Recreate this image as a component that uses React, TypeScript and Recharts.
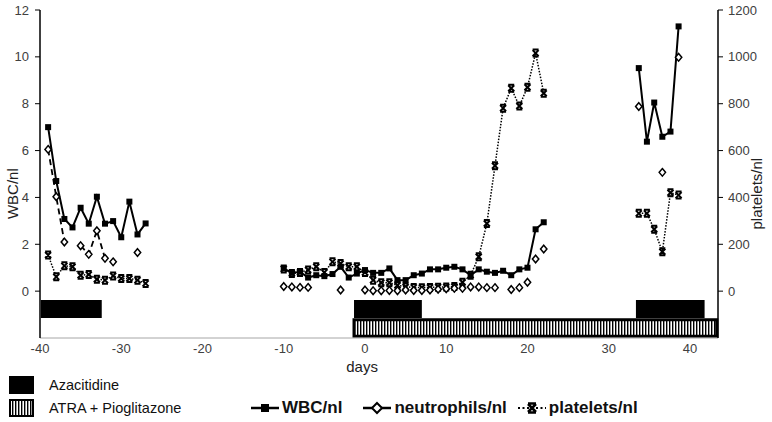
import React from 'react'
import { ComposedChart, Line, XAxis, YAxis, ReferenceArea } from 'recharts'

// day numbers and lab values
const earlyDays = [-39, -38, -37, -36, -35, -34, -33, -32, -31, -30, -29, -28, -27]
const earlyWbc = [7.0, 4.7, 3.08, 2.72, 3.56, 2.88, 4.03, 2.88, 2.99, 2.3, 3.82, 2.42, 2.89]
const earlyNeutroLine = [6.05, 4.03, 2.1, null, 1.94, 1.57, 2.58, 1.4, null, null, null, null, null]
const earlyNeutroDots = [null, null, null, null, null, null, null, null, 1.25, null, null, 1.65, null]
const earlyPlatelets = [154, 61, 108, 104, 68, 71, 51, 47, 65, 54, 54, 47, 33]

const midDays = [-10, -9, -8, -7, -6, -5, -4, -3, -2, -1, 0, 1, 2, 3, 4, 5, 6, 7, 8, 9, 10, 11, 12, 13, 14, 15, 16, 17, 18, 19, 20, 21, 22]
const midWbc = [0.97, 0.78, 0.83, 0.58, 0.68, 0.64, 0.73, 1.04, 0.58, 0.75, 0.9, 0.78, 0.78, 0.97, 0.47, 0.47, 0.68, 0.75, 0.93, 0.93, 1.0, 1.04, 0.93, 0.68, 0.93, 0.83, 0.78, 0.87, 0.68, 0.93, 1.0, 2.64, 2.94]
const midNeutro = [0.2, 0.18, 0.16, 0.16, null, null, null, 0.05, null, null, 0.05, 0.02, 0.02, 0.03, 0.02, 0.05, 0.03, 0.03, 0.05, 0.08, 0.1, 0.12, 0.12, 0.18, 0.18, 0.15, 0.15, null, 0.07, 0.15, 0.38, 1.37, 1.8]
const midPlatelets = [95, 75, 80, 90, 104, 80, 125, 118, 104, 104, 80, 47, 36, 36, 25, 18, 16, 15, 16, 17, 18, 20, 38, 68, 147, 289, 535, 781, 866, 790, 870, 1016, 845]

const lateDays = [33.7, 34.7, 35.6, 36.6, 37.6, 38.6]
const lateWbc = [9.52, 6.38, 8.05, 6.59, 6.81, 11.3]
const lateNeutro = [7.88, null, null, 5.07, null, 9.98]
const latePlatelets = [332, 332, 264, 168, 420, 410]

// treatment periods [start day, end day]
const azacitidine = [[-39.9, -32.4], [-1.35, 7.0], [33.35, 41.8]]
const atra = [[-1.35, 43.3]]

const xTicks = [-40, -30, -20, -10, 0, 10, 20, 30, 40]
const leftTicks = [0, 2, 4, 6, 8, 10, 12]
const rightTicks = [0, 200, 400, 600, 800, 1000, 1200]

const font = '"Liberation Sans", Arial, sans-serif'

type Val = number | null
type Row = { day: number; wbc: Val; neutroLine: Val; neutroDot: Val; platelets: Val }

function segment(days: number[], wbc: Val[], neutroLine: Val[] | null, neutroDot: Val[], platelets: Val[]): Row[] {
  return days.map((day, i) => ({
    day,
    wbc: wbc[i],
    neutroLine: neutroLine ? neutroLine[i] : null,
    neutroDot: neutroDot[i],
    platelets: platelets[i],
  }))
}

// empty rows so the lines break between the three sampling periods
const gap = (day: number): Row => ({ day, wbc: null, neutroLine: null, neutroDot: null, platelets: null })

const rows: Row[] = [
  ...segment(earlyDays, earlyWbc, earlyNeutroLine, earlyNeutroDots, earlyPlatelets),
  gap(-18),
  ...segment(midDays, midWbc, null, midNeutro, midPlatelets),
  gap(28),
  ...segment(lateDays, lateWbc, null, lateNeutro, latePlatelets),
]

const square = (p: any) => {
  if (p.value == null || p.cx == null) return <g key={`sq${p.index}`} />
  return <rect key={`sq${p.index}`} x={p.cx - 3} y={p.cy - 3} width={6} height={6} fill="#000" />
}

const diamond = (p: any) => {
  if (p.value == null || p.cx == null) return <g key={`dm${p.index}-${p.dataKey}`} />
  const { cx, cy } = p
  return (
    <path
      key={`dm${p.index}-${p.dataKey}`}
      d={`M${cx},${cy - 3.8} L${cx + 3.2},${cy} L${cx},${cy + 3.8} L${cx - 3.2},${cy} Z`}
      fill="#fff"
      stroke="#000"
      strokeWidth={1.5}
    />
  )
}

const star = (p: any) => {
  if (p.value == null || p.cx == null) return <g key={`st${p.index}`} />
  const { cx, cy } = p
  return (
    <path
      key={`st${p.index}`}
      d={`M${cx - 3},${cy - 3} L${cx + 3},${cy + 3} M${cx + 3},${cy - 3} L${cx - 3},${cy + 3} M${cx - 3},${cy - 3.5} L${cx + 3},${cy - 3.5} M${cx - 3},${cy + 3.5} L${cx + 3},${cy + 3.5}`}
      stroke="#000"
      strokeWidth={2}
      fill="none"
    />
  )
}

const leftTitle = (props: any) => {
  const vb = props.viewBox || { x: 0, y: 10, width: 40, height: 328 }
  const x = vb.x + 13
  const y = vb.y + vb.height * 0.56
  return (
    <text x={x} y={y} transform={`rotate(-90 ${x} ${y})`} textAnchor="middle" dominantBaseline="central" fontSize={15} fill="#222" fontFamily={font}>
      WBC/nl
    </text>
  )
}

const rightTitle = (props: any) => {
  const vb = props.viewBox || { x: 718, y: 10, width: 54, height: 328 }
  const x = vb.x + 39
  const y = vb.y + vb.height * 0.56
  return (
    <text x={x} y={y} transform={`rotate(-90 ${x} ${y})`} textAnchor="middle" dominantBaseline="central" fontSize={15} fill="#222" fontFamily={font}>
      platelets/nl
    </text>
  )
}

const daysTitle = (props: any) => {
  const vb = props.viewBox || { x: 40, y: 338, width: 678, height: 42 }
  return (
    <text x={vb.x + vb.width * 0.475} y={vb.y + 34} textAnchor="middle" fontSize={15} fill="#222" fontFamily={font}>
      days
    </text>
  )
}

function LegendMark({ kind }: { kind: 'wbc' | 'neutro' | 'platelets' }) {
  return (
    <svg width={30} height={14} style={{ display: 'block' }}>
      {kind === 'wbc' && (
        <>
          <line x1={1} y1={7} x2={29} y2={7} stroke="#000" strokeWidth={2.5} />
          <rect x={11} y={3} width={8} height={8} fill="#000" />
        </>
      )}
      {kind === 'neutro' && (
        <>
          <line x1={1} y1={7} x2={29} y2={7} stroke="#000" strokeWidth={2.5} />
          <path d="M15,2 L20,7 L15,12 L10,7 Z" fill="#fff" stroke="#000" strokeWidth={2} />
        </>
      )}
      {kind === 'platelets' && (
        <>
          <line x1={1} y1={7} x2={29} y2={7} stroke="#000" strokeWidth={2} strokeDasharray="2 2.5" />
          <path d="M11,3 L19,11 M19,3 L11,11 M11,2.5 L19,2.5 M11,11.5 L19,11.5" stroke="#000" strokeWidth={2.5} />
        </>
      )}
    </svg>
  )
}

export default function App() {
  return (
    <div style={{ position: 'absolute', left: 0, top: 0, width: 772, height: 422, background: '#fff', fontFamily: font }}>
      <ComposedChart width={772} height={380} data={rows} margin={{ top: 10, right: 0, bottom: 0, left: 0 }}>
        <defs>
          <pattern id="stripes" width={3} height={10} patternUnits="userSpaceOnUse">
            <rect width={3} height={10} fill="#fff" />
            <rect width={1.4} height={10} fill="#000" />
          </pattern>
        </defs>
        <XAxis
          type="number"
          dataKey="day"
          domain={[-40, 43.45]}
          ticks={xTicks}
          allowDataOverflow
          tickLine={false}
          tickSize={0}
          tickMargin={6}
          axisLine={{ stroke: '#a6a6a6', strokeWidth: 1 }}
          tick={{ fontSize: 13, fill: '#404040', fontFamily: font }}
          height={42}
          label={daysTitle}
        />
        <YAxis
          yAxisId="left"
          domain={[-2, 12]}
          ticks={leftTicks}
          allowDataOverflow
          width={40}
          tickSize={5}
          tickMargin={6}
          axisLine={{ stroke: '#000', strokeWidth: 1.5 }}
          tickLine={{ stroke: '#000', strokeWidth: 1 }}
          tick={{ fontSize: 13, fill: '#404040', fontFamily: font }}
          label={leftTitle}
        />
        <YAxis
          yAxisId="right"
          orientation="right"
          domain={[-200, 1200]}
          ticks={rightTicks}
          allowDataOverflow
          width={54}
          tickSize={5}
          tickMargin={5}
          axisLine={{ stroke: '#000', strokeWidth: 1.5 }}
          tickLine={{ stroke: '#000', strokeWidth: 1 }}
          tick={{ fontSize: 13, fill: '#404040', fontFamily: font }}
          label={rightTitle}
        />
        {atra.map(([x1, x2], i) => (
          <ReferenceArea
            key={`atra${i}`}
            yAxisId="left"
            x1={x1}
            x2={x2}
            y1={-1.93}
            y2={-1.22}
            fill="url(#stripes)"
            fillOpacity={1}
            stroke="#000"
            strokeWidth={3}
          />
        ))}
        {azacitidine.map(([x1, x2], i) => (
          <ReferenceArea
            key={`aza${i}`}
            yAxisId="left"
            x1={x1}
            x2={x2}
            y1={-1.15}
            y2={-0.38}
            fill="#000"
            fillOpacity={1}
            stroke="none"
          />
        ))}
        <Line
          yAxisId="right"
          dataKey="platelets"
          stroke="#000"
          strokeWidth={1.5}
          strokeDasharray="1.5 1.5"
          dot={star}
          activeDot={false}
          connectNulls={false}
          isAnimationActive={false}
        />
        <Line
          yAxisId="left"
          dataKey="neutroLine"
          stroke="#000"
          strokeWidth={1.8}
          strokeDasharray="6 4"
          dot={diamond}
          activeDot={false}
          connectNulls={false}
          isAnimationActive={false}
        />
        <Line
          yAxisId="left"
          dataKey="neutroDot"
          stroke="none"
          dot={diamond}
          activeDot={false}
          connectNulls={false}
          isAnimationActive={false}
        />
        <Line
          yAxisId="left"
          dataKey="wbc"
          stroke="#000"
          strokeWidth={2}
          dot={square}
          activeDot={false}
          connectNulls={false}
          isAnimationActive={false}
        />
      </ComposedChart>

      <div style={{ position: 'absolute', left: 9, top: 376, width: 25, height: 18, background: '#000' }} />
      <div style={{ position: 'absolute', left: 49, top: 376, height: 18, lineHeight: '18px', fontSize: 14.5, color: '#111' }}>
        Azacitidine
      </div>
      <svg style={{ position: 'absolute', left: 9, top: 399 }} width={25} height={18}>
        <rect x={1} y={1} width={23} height={16} fill="url(#legendStripes)" stroke="#000" strokeWidth={2} />
        <defs>
          <pattern id="legendStripes" width={3} height={10} patternUnits="userSpaceOnUse">
            <rect width={3} height={10} fill="#fff" />
            <rect width={1.4} height={10} fill="#000" />
          </pattern>
        </defs>
      </svg>
      <div style={{ position: 'absolute', left: 49, top: 399, height: 18, lineHeight: '18px', fontSize: 14.5, color: '#111' }}>
        ATRA + Pioglitazone
      </div>

      <div style={{ position: 'absolute', left: 250, top: 398, height: 20, display: 'flex', alignItems: 'center', fontSize: 17, fontWeight: 'bold', color: '#111' }}>
        <LegendMark kind="wbc" />
        <span style={{ marginLeft: 2 }}>WBC/nl</span>
        <span style={{ width: 20 }} />
        <LegendMark kind="neutro" />
        <span style={{ marginLeft: 2 }}>neutrophils/nl</span>
        <span style={{ width: 10 }} />
        <LegendMark kind="platelets" />
        <span style={{ marginLeft: 2 }}>platelets/nl</span>
      </div>
    </div>
  )
}
